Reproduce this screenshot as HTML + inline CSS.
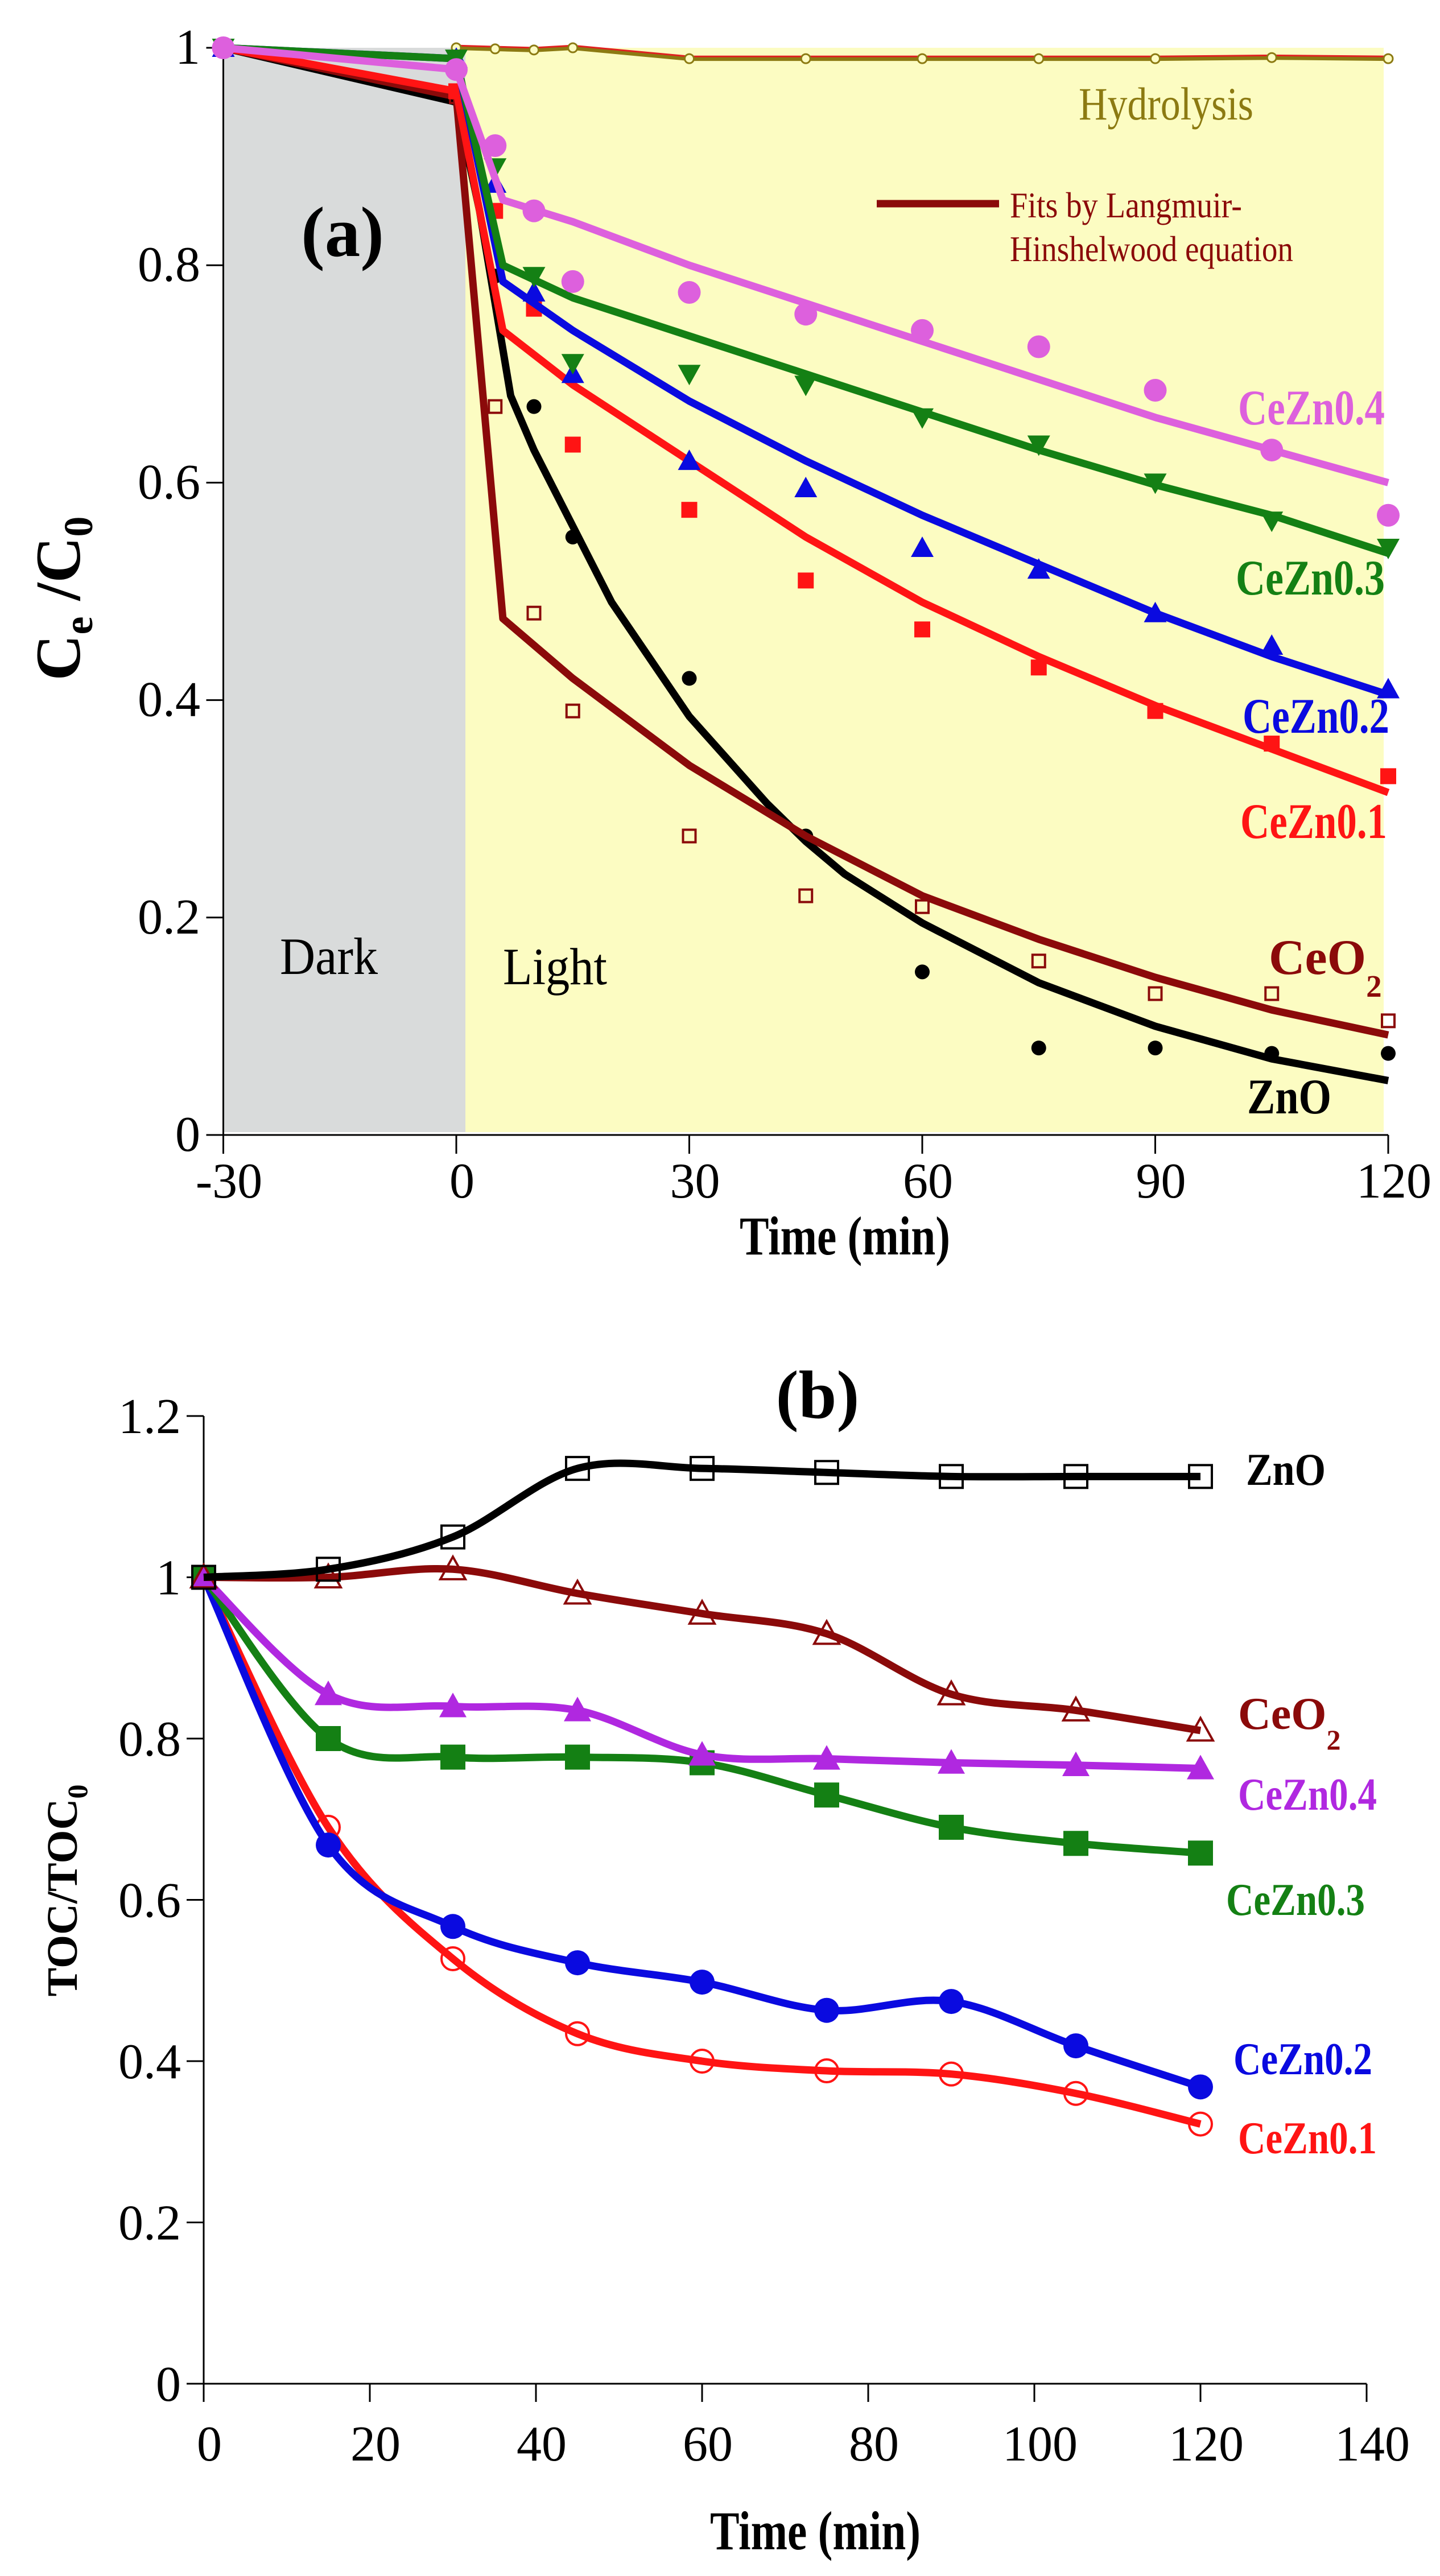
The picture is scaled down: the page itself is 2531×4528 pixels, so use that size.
<!DOCTYPE html>
<html><head><meta charset="utf-8"><style>
html,body{margin:0;padding:0;background:#fff}
svg{display:block}
text{font-family:"Liberation Serif",serif}
</style></head><body>
<svg id="chart" xmlns="http://www.w3.org/2000/svg" width="2531" height="4528" viewBox="0 0 2531 4528">
<g id="pa"></g>
<g id="pb"></g>
</svg>
<script>
// ---------- Panel (a) data ----------
const aTimes = [-30,0,5,10,15,30,45,60,75,90,105,120];
const aZnOPts   = [1,0.96,0.79,0.67,0.55,0.42,0.275,0.15,0.08,0.08,0.075,0.075];
const aCeO2Pts  = [1,0.955,0.67,0.48,0.39,0.275,0.22,0.21,0.16,0.13,0.13,0.105];
const aZn01Pts  = [1,0.96,0.85,0.76,0.635,0.575,0.51,0.465,0.43,0.39,0.36,0.33];
const aZn02Pts  = [1,0.99,0.875,0.775,0.70,0.62,0.595,0.54,0.52,0.48,0.45,0.41];
const aZn03Pts  = [1,0.99,0.89,0.79,0.71,0.70,0.69,0.66,0.635,0.60,0.565,0.54];
const aZn04Pts  = [1,0.98,0.91,0.85,0.785,0.775,0.755,0.74,0.725,0.685,0.63,0.57];
const aHydTimes = [0,5,10,15,30,45,60,75,90,105,120];
const aHydPts   = [1,0.999,0.998,1,0.99,0.99,0.99,0.99,0.99,0.991,0.99];
const aFitTimes = [-30,0,6,15,30,45,60,75,90,105,120];
const aZnOFitT  = [-30,0,3,7,10,15,20,30,40,45,50,60,75,90,105,120];
const aZnOFit   = [1,0.95,0.85,0.68,0.63,0.56,0.49,0.385,0.305,0.27,0.24,0.195,0.14,0.1,0.07,0.05];
const aCeO2Fit  = [1,0.955,0.475,0.42,0.34,0.275,0.22,0.18,0.145,0.115,0.092];
const aZn01Fit  = [1,0.96,0.74,0.69,0.62,0.55,0.49,0.44,0.395,0.355,0.315];
const aZn02Fit  = [1,0.99,0.785,0.74,0.675,0.62,0.57,0.525,0.48,0.44,0.405];
const aZn03Fit  = [1,0.99,0.80,0.77,0.735,0.70,0.665,0.63,0.598,0.57,0.535];
const aZn04Fit  = [1,0.98,0.86,0.84,0.80,0.765,0.73,0.695,0.66,0.63,0.60];
const aXTicks = [-30,0,30,60,90,120];
const aXTickLabels = ["-30","0","30","60","90","120"];
const aYTicks = [0,0.2,0.4,0.6,0.8,1];
const aYTickLabels = ["0","0.2","0.4","0.6","0.8","1"];
// ---------- Panel (b) data ----------
const bTimes = [0,15,30,45,60,75,90,105,120];
const bZnO  = [1,1.01,1.05,1.135,1.135,1.13,1.125,1.125,1.125];
const bCeO2 = [1,1.0,1.01,0.98,0.955,0.93,0.855,0.835,0.81];
const bZn04 = [1,0.855,0.84,0.835,0.78,0.775,0.77,0.767,0.763];
const bZn03 = [1,0.80,0.777,0.777,0.77,0.73,0.69,0.67,0.658];
const bZn02 = [1,0.668,0.567,0.522,0.498,0.463,0.474,0.419,0.368];
const bZn01 = [1,0.69,0.527,0.434,0.40,0.388,0.384,0.36,0.322];
const bXTicks = [0,20,40,60,80,100,120,140];
const bXTickLabels = ["0","20","40","60","80","100","120","140"];
const bYTicks = [0,0.2,0.4,0.6,0.8,1,1.2];
const bYTickLabels = ["0","0.2","0.4","0.6","0.8","1","1.2"];

const NS="http://www.w3.org/2000/svg";
function el(tag,attrs,parent){const e=document.createElementNS(NS,tag);for(const k in attrs)e.setAttribute(k,attrs[k]);parent.appendChild(e);return e;}
function txt(s,attrs,parent){const e=el('text',attrs,parent);e.textContent=s;return e;}
function smooth(pts){
  let d='M'+pts[0][0]+','+pts[0][1];
  for(let i=0;i<pts.length-1;i++){
    const p0=pts[Math.max(0,i-1)],p1=pts[i],p2=pts[i+1],p3=pts[Math.min(pts.length-1,i+2)];
    const c1=[p1[0]+(p2[0]-p0[0])/6,p1[1]+(p2[1]-p0[1])/6];
    const c2=[p2[0]-(p3[0]-p1[0])/6,p2[1]-(p3[1]-p1[1])/6];
    d+=' C'+c1[0]+','+c1[1]+' '+c2[0]+','+c2[1]+' '+p2[0]+','+p2[1];
  }
  return d;
}
function linear(pts){return 'M'+pts.map(p=>p[0]+','+p[1]).join(' L');}
function marker(type,x,y,s,color,parent){
  let e;
  if(type==='circle'){e=el('circle',{cx:x,cy:y,r:s,fill:color},parent);}
  else if(type==='ocircle'){e=el('circle',{cx:x,cy:y,r:s,fill:'none',stroke:color,'stroke-width':4},parent);}
  else if(type==='square'){e=el('rect',{x:x-s,y:y-s,width:2*s,height:2*s,fill:color},parent);}
  else if(type==='osquare'){e=el('rect',{x:x-s,y:y-s,width:2*s,height:2*s,fill:'none',stroke:color,'stroke-width':4},parent);}
  else if(type==='tri'){e=el('polygon',{points:`${x},${y-s} ${x-s},${y+s*0.8} ${x+s},${y+s*0.8}`,fill:color},parent);}
  else if(type==='otri'){e=el('polygon',{points:`${x},${y-s} ${x-s},${y+s*0.8} ${x+s},${y+s*0.8}`,fill:'none',stroke:color,'stroke-width':4},parent);}
  else if(type==='dtri'){e=el('polygon',{points:`${x},${y+s} ${x-s},${y-s*0.8} ${x+s},${y-s*0.8}`,fill:color},parent);}
  return e;
}

// ===== Panel A =====
(function(){
  const g=document.getElementById('pa');
  const xA=t=>802+(t/30)*409.5, yA=v=>1995-v*1911;
  let r=el('rect',{x:xA(-30),y:84,width:818-xA(-30),height:1990-84,fill:'#D9DBDB'},g);
  
  
  r=el('rect',{x:818,y:84,width:2432-818,height:1990-84,fill:'#FCFCC2'},g);
  
  
  let ax=el('g',{},g);
  el('line',{x1:xA(-30),y1:1995,x2:xA(120),y2:1995,stroke:'#000','stroke-width':3},ax);
  aXTicks.forEach((t,i)=>{
    el('line',{x1:xA(t),y1:1995,x2:xA(t),y2:2028,stroke:'#000','stroke-width':3},ax);
    const l=txt(aXTickLabels[i],{x:xA(t)+10,y:2105,'font-size':88,'text-anchor':'middle'},ax);
    
    
  });
  let ay=el('g',{},g);
  el('line',{x1:xA(-30),y1:yA(0),x2:xA(-30),y2:yA(1),stroke:'#000','stroke-width':3},ay);
  aYTicks.forEach((v,i)=>{
    el('line',{x1:xA(-30)-30,y1:yA(v),x2:xA(-30),y2:yA(v),stroke:'#000','stroke-width':3},ay);
    const l=txt(aYTickLabels[i],{x:352,y:yA(v)+28,'font-size':88,'text-anchor':'end'},ay);
    
    
  });
  let t=txt('',{transform:'translate(140,1052) rotate(-90)','font-size':112,'font-weight':'bold','text-anchor':'middle'},g);
  t.innerHTML='C<tspan font-size="72" dy="22">e</tspan><tspan dy="-22"> /C</tspan><tspan font-size="72" dy="22">0</tspan>';
  
  
  t=txt('Time (min)',{x:1485,y:2205,'font-size':96,'font-weight':'bold','text-anchor':'middle',textLength:370,lengthAdjust:'spacingAndGlyphs'},g);
  
  

  const hg=el('g',{},g);
  el('path',{d:linear(aHydTimes.map((tt,i)=>[xA(tt),yA(aHydPts[i])])),fill:'none',stroke:'#8C7A12','stroke-width':8},hg);
  el('path',{d:linear(aHydTimes.map((tt,i)=>[xA(tt),yA(aHydPts[i]+0.002)])),fill:'none',stroke:'#E02020','stroke-width':3},hg);
  aHydTimes.forEach((tt,i)=>{el('circle',{cx:xA(tt),cy:yA(aHydPts[i]),r:8,fill:'#FCFCC2',stroke:'#8C7A12','stroke-width':3},hg);});

  const series=[
    {name:'zno',c:'#000',pts:aZnOPts,fitT:aZnOFitT,fit:aZnOFit,m:'circle',s:13},
    {name:'ceo2',c:'#8B0A0A',pts:aCeO2Pts,fitT:aFitTimes,fit:aCeO2Fit,m:'osquare',s:11},
    {name:'cezn01',c:'#FF1414',pts:aZn01Pts,fitT:aFitTimes,fit:aZn01Fit,m:'square',s:14},
    {name:'cezn02',c:'#0A0AE0',pts:aZn02Pts,fitT:aFitTimes,fit:aZn02Fit,m:'tri',s:20},
    {name:'cezn03',c:'#148014',pts:aZn03Pts,fitT:aFitTimes,fit:aZn03Fit,m:'dtri',s:20},
    {name:'cezn04',c:'#DD60DD',pts:aZn04Pts,fitT:aFitTimes,fit:aZn04Fit,m:'circle',s:20},
  ];
  series.forEach(S=>{
    const sg=el('g',{},g);
    
    
    const p=el('path',{d:linear(S.fitT.map((tt,i)=>[xA(tt),yA(S.fit[i])])),fill:'none',stroke:S.c,'stroke-width':13,'stroke-linejoin':'round'},sg);
    
    
    aTimes.forEach((tt,i)=>{
      const m=marker(S.m,xA(tt),yA(S.pts[i]),S.s,S.c,sg);
      
      
    });
  });

  t=txt('(a)',{x:602,y:450,'font-size':125,'font-weight':'bold','text-anchor':'middle'},g);
  
  t=txt('Hydrolysis',{x:1896,y:210,'font-size':82,fill:'#8C7A12',textLength:307,lengthAdjust:'spacingAndGlyphs'},g);
  
  const lg=el('g',{},g);
  el('line',{x1:1541,y1:358,x2:1756,y2:358,stroke:'#8B0A0A','stroke-width':13},lg);
  txt('Fits by  Langmuir-',{x:1775,y:382,'font-size':64,fill:'#8B0A0A',textLength:408,lengthAdjust:'spacingAndGlyphs'},lg);
  txt('Hinshelwood  equation',{x:1775,y:459,'font-size':64,fill:'#8B0A0A',textLength:498,lengthAdjust:'spacingAndGlyphs'},lg);
  t=txt('Dark',{x:492,y:1712,'font-size':92,textLength:172,lengthAdjust:'spacingAndGlyphs'},g);
  
  t=txt('Light',{x:884,y:1730,'font-size':92,textLength:183,lengthAdjust:'spacingAndGlyphs'},g);
  
  const labs=[['CeZn0.4','#DD60DD',2176,746,258],['CeZn0.3','#148014',2172,1045,262],['CeZn0.2','#0A0AE0',2184,1288,258],['CeZn0.1','#FF1414',2180,1473,258],['ZnO','#000',2192,1957,148]];
  labs.forEach(L=>{
    const e=txt(L[0],{x:L[2],y:L[3],'font-size':88,'font-weight':'bold',fill:L[1],textLength:L[4],lengthAdjust:'spacingAndGlyphs'},g);
    
    
  });
  t=txt('',{x:2230,y:1712,'font-size':88,'font-weight':'bold',fill:'#8B0A0A'},g);
  t.innerHTML='CeO<tspan font-size="55" dy="40">2</tspan>';
  
})();

// ===== Panel B =====
(function(){
  const g=document.getElementById('pb');
  const xB=t=>358+t*(2044/140), yB=v=>4190-v*(1701/1.2);
  let ax=el('g',{},g);
  el('line',{x1:xB(0),y1:4190,x2:xB(140),y2:4190,stroke:'#000','stroke-width':3},ax);
  bXTicks.forEach((t,i)=>{
    el('line',{x1:xB(t),y1:4190,x2:xB(t),y2:4222,stroke:'#000','stroke-width':3},ax);
    const l=txt(bXTickLabels[i],{x:xB(t)+10,y:4325,'font-size':88,'text-anchor':'middle'},ax);
    
    
  });
  let ay=el('g',{},g);
  el('line',{x1:xB(0),y1:yB(0),x2:xB(0),y2:yB(1.2),stroke:'#000','stroke-width':3},ay);
  bYTicks.forEach((v,i)=>{
    el('line',{x1:xB(0)-30,y1:yB(v),x2:xB(0),y2:yB(v),stroke:'#000','stroke-width':3},ay);
    const l=txt(bYTickLabels[i],{x:318,y:yB(v)+30,'font-size':88,'text-anchor':'end'},ay);
    
    
  });
  let t=txt('',{transform:'translate(135,3323) rotate(-90)','font-size':76,'font-weight':'bold','text-anchor':'middle'},g);
  t.innerHTML='TOC/TOC<tspan font-size="50" dy="18">0</tspan>';
  
  t=txt('Time (min)',{x:1433,y:4481,'font-size':96,'font-weight':'bold','text-anchor':'middle',textLength:370,lengthAdjust:'spacingAndGlyphs'},g);
  
  t=txt('(b)',{x:1437,y:2492,'font-size':120,'font-weight':'bold','text-anchor':'middle'},g);
  

  const series=[
    {name:'cezn01',c:'#FF1414',v:bZn01,m:'ocircle',s:20},
    {name:'cezn02',c:'#0A0AE0',v:bZn02,m:'circle',s:22},
    {name:'cezn03',c:'#148014',v:bZn03,m:'square',s:22},
    {name:'cezn04',c:'#B028E0',v:bZn04,m:'tri',s:24},
    {name:'ceo2',c:'#8B0A0A',v:bCeO2,m:'otri',s:22},
    {name:'zno',c:'#000',v:bZnO,m:'osquare',s:20},
  ];
  series.forEach(S=>{
    const sg=el('g',{},g);
    
    
    const p=el('path',{d:smooth(bTimes.map((tt,i)=>[xB(tt),yB(S.v[i])])),fill:'none',stroke:S.c,'stroke-width':13,'stroke-linejoin':'round'},sg);
    
    
    bTimes.forEach((tt,i)=>{
      const m=marker(S.m,xB(tt),yB(S.v[i]),S.s,S.c,sg);
      
      
    });
  });
  const labs=[['ZnO','#000',2190,2610,140],['CeZn0.4','#B028E0',2176,3181,244],['CeZn0.3','#148014',2155,3366,244],['CeZn0.2','#0A0AE0',2168,3646,244],['CeZn0.1','#FF1414',2176,3785,244]];
  labs.forEach(L=>{
    const e=txt(L[0],{x:L[2],y:L[3],'font-size':80,'font-weight':'bold',fill:L[1],textLength:L[4],lengthAdjust:'spacingAndGlyphs'},g);
    
    
  });
  t=txt('',{x:2176,y:3039,'font-size':80,'font-weight':'bold',fill:'#8B0A0A'},g);
  t.innerHTML='CeO<tspan font-size="50" dy="36">2</tspan>';
  
})();
</script>
</body></html>
